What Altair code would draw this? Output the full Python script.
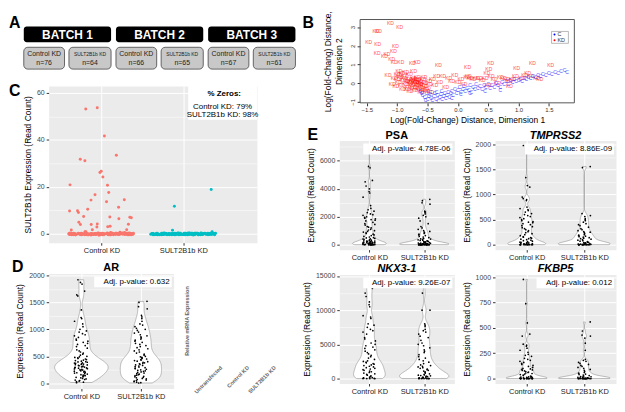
import altair as alt
import pandas as pd

FONT = "Liberation Sans"
GRP = ["Control KD", "SULT2B1b KD"]
LABEL_EXPR = f"['{GRP[0]}','{GRP[1]}'][datum.value-1]"
# deterministic pseudo-random jitter in [0,1) from the row number
FRAC = "((abs(sin(datum.rn * 12.9898 + datum.grp * 78.233)) * 43758.5453) % 1)"
FRAC2 = "((abs(sin(datum.rn * 39.3468 + datum.grp * 11.135)) * 24634.6345) % 1)"

# ---------------- Panel A ----------------
batches = ["BATCH 1", "BATCH 2", "BATCH 3"]
control_n = [76, 66, 67]
kd_n = [64, 65, 61]

# ---------------- Panel B (MDS) ----------------
kd_x = [-1.47, -1.35, -1.31, -1.32, -1.33, -1.21, -1.17, -1.11, -0.96, -1.03, -1.06, -1.09, -1.05, -0.94, -0.75, -0.67,
        -0.32, 0.16, 0.54, 0.97, 1.23, 1.53, 0.51, 0.48, 0.17, -1.15, -0.97, -0.86, -0.73, -1.0, -0.92, -0.80,
        -1.05, -1.00, -0.98, -0.95, -0.93, -0.90, -0.88, -0.86, -0.84, -0.82, -0.80, -0.78, -0.76, -0.75, -0.73, -0.72,
        -0.70, -0.69, -0.68, -0.66, -0.65, -0.64, -0.63, -0.62, -0.60, -0.59, -0.58, -0.57, -0.55, -0.54, -0.52, -0.50,
        -0.48, -0.47, -1.08, -1.02, -0.97, -0.91, -0.87, -0.83, -0.79, -0.71, -0.67, -0.61, -0.56, -0.53, -0.45, -0.74,
        -0.77, -0.81, -0.63, -0.69, -0.72, -0.66,
        -0.42, -0.35, -0.30, -0.25, -0.20, -0.15, -0.10, -0.05, 0.00, 0.05, 0.10, 0.15, 0.20, 0.25, 0.30, 0.35,
        0.40, 0.45, 0.55, 0.60, 0.65, 0.70, 0.75, 0.80, 0.85, 0.90, 0.95, 1.05, 1.10, 1.15, 1.20, 1.30, 1.35, 0.85, 0.50, -0.38]
kd_y = [2.21, 2.79, 2.79, 2.09, 1.60, 1.48, 1.55, 3.21, 3.00, 1.98, 1.71, 1.31, 1.15, 1.15, 1.07, 1.15,
        0.98, 0.85, 1.10, 0.82, 1.07, 0.98, 0.74, 0.52, 0.39, 0.44, 0.65, 0.60, 0.64, 0.50, 0.52, 0.48,
        0.30, 0.20, 0.05, 0.35, -0.10, 0.15, 0.28, -0.05, 0.10, -0.20, 0.22, 0.02, -0.12, 0.15, 0.30, -0.05,
        0.08, -0.25, 0.18, -0.10, 0.02, -0.30, 0.12, -0.18, 0.05, -0.08, -0.35, 0.25, -0.15, 0.00, -0.42, -0.25,
        0.10, -0.05, -0.02, -0.15, 0.42, -0.30, 0.40, -0.33, -0.40, -0.38, 0.35, -0.45, 0.32, -0.30, -0.48, -0.22,
        0.10, 0.05, -0.02, 0.05, 0.20, 0.25,
        0.20, 0.38, 0.05, 0.38, -0.20, 0.30, 0.12, 0.45, 0.05, 0.25, -0.05, 0.35, 0.30, 0.20, 0.28, 0.30,
        0.15, 0.30, 0.38, 0.20, 0.00, 0.35, 0.30, 0.22, 0.10, 0.25, 0.38, 0.30, 0.45, 0.55, 0.40, 0.30, 0.20, -0.15, -0.10, -0.10]
c_x = [-0.58, -0.55, -0.52, -0.50, -0.48, -0.46, -0.44, -0.42, -0.40, -0.38, -0.36, -0.34, -0.32, -0.30, -0.28, -0.26,
       -0.24, -0.22, -0.20, -0.18, -0.16, -0.14, -0.45, -0.35, -0.27, -0.60, -0.62, -0.53,
       -0.12, -0.10, -0.08, -0.05, -0.02, 0.00, 0.03, 0.05, 0.08, 0.10, 0.12, 0.15, 0.18, 0.20, 0.22, 0.25,
       0.28, 0.30, 0.33, 0.36, 0.40, 0.43, 0.46, 0.50, 0.53, 0.56, 0.60, 0.63, 0.66, 0.70, 0.73, 0.76,
       0.80, 0.83, 0.86, 0.90, 0.93, 0.96, 1.00, 1.03, 1.06, 1.10, 1.13, 1.16, 1.20, 1.24, 1.28, 1.32,
       1.36, 1.40, 1.45, 1.50, 1.55, 1.60, 1.65, 1.70, 1.76, 1.80, 0.20, 0.05, -0.10, 0.45, 0.70]
c_y = [-0.65, -0.75, -0.55, -0.85, -0.68, -0.60, -0.78, -0.92, -0.70, -0.55, -0.82, -0.65, -0.95, -0.75, -0.60, -0.85,
       -0.70, -0.50, -0.80, -0.62, -0.45, -0.72, -0.48, -0.45, -0.40, -0.50, -0.40, -0.92,
       -0.55, -0.40, -0.65, -0.30, -0.50, -0.35, -0.20, -0.45, -0.30, -0.15, -0.40, -0.25, -0.35, -0.10, -0.45, -0.20,
       -0.30, -0.05, -0.25, -0.15, -0.30, -0.10, -0.22, -0.05, -0.25, -0.12, -0.20, 0.00, -0.10, -0.18, 0.05, -0.05,
       0.10, -0.02, 0.15, 0.05, 0.20, 0.10, 0.18, 0.25, 0.12, 0.30, 0.22, 0.35, 0.28, 0.40, 0.32, 0.45,
       0.38, 0.50, 0.42, 0.55, 0.48, 0.60, 0.55, 0.65, 0.70, 0.62, -0.55, -0.60, -0.80, -0.40, -0.35]
mds_groups = ["C", "KD"]
mds_colors = ["#0000FF", "#FF0000"]

# ---------------- Panel C ----------------
c_control_nonzero = [53.2, 53.8, 41.6, 33.6, 31.8, 31.5, 26.8, 26.4, 24.0, 20.8, 20.7, 17.7, 16.5, 14.9, 14.1,
                     13.5, 11.1, 10.0, 10.2, 9.6, 9.0, 7.3, 7.0, 7.0, 7.7, 6.6, 4.7, 4.3, 3.8, 4.3, 3.9, 3.1,
                     2.7, 2.6, 1.9, 1.5, 1.4, 1.1, 1.0, 1.0, 1.0, 1.0]
c_control_zero_count = 167
c_kd_nonzero = [19.1, 11.8, 1.6, 1.1]
c_kd_zero_count = 186
zeros_title = "% Zeros:"
zeros_lines = ["Control KD: 79%", "SULT2B1b KD: 98%"]

# ---------------- Panel D qPCR (empty) ----------------
qpcr_conditions = ["Untransfected", "Control KD", "SULT2B1b KD"]
qpcr_ylabel = "Relative mRNA Expression"

# ---------------- Panels D / E (violins) ----------------
ar_ctrl = [1920, 1870, 1840, 1710, 1640, 1620, 1360, 1220, 1200, 1150, 1100, 1050, 1000, 970, 950, 920, 900, 880,
           850, 820, 800, 780, 760, 740, 720, 700, 680, 650, 620, 600, 580, 560, 540, 520, 500, 490, 480, 470,
           460, 450, 440, 430, 420, 410, 400, 395, 390, 380, 375, 370, 360, 355, 350, 345, 340, 330, 325, 320,
           310, 305, 300, 295, 290, 285, 280, 270, 265, 260, 250, 245, 240, 230, 225, 220, 210, 200, 195, 190,
           180, 170, 160, 150, 145, 140, 130, 120, 110, 100, 90, 80, 70, 60, 50, 40, 30, 20, 10]
ar_kd = [1520, 1500, 1420, 1380, 1260, 1230, 1200, 1150, 1100, 1080, 1050, 1020, 1000, 980, 950, 930, 900, 880,
         860, 840, 820, 800, 780, 760, 740, 720, 700, 680, 660, 640, 620, 600, 580, 560, 540, 520, 500, 490, 480,
         470, 460, 450, 440, 430, 420, 410, 400, 390, 380, 370, 360, 350, 340, 330, 320, 310, 300, 290, 280, 270,
         260, 250, 240, 230, 220, 210, 200, 190, 180, 170, 160, 150, 140, 130, 120, 110, 100, 90, 80, 70, 60, 50,
         40, 30, 20, 10, 5]
psa_ctrl = [7100, 5600, 5500, 4600, 4500, 4200, 4000, 3800, 3700, 3400, 2800, 2600, 2500, 2400, 2300, 2200, 2150,
            2100, 2000, 1950, 1900, 1850, 1800, 1750, 1700, 1600, 1500, 1450, 1400, 1300, 1250, 1200, 1100, 1050,
            1000, 950, 900, 850, 800, 750, 700, 650, 600, 550, 500, 480, 450, 420, 400, 380, 350, 320, 300, 280,
            260, 250, 230, 220, 200, 190, 180, 170, 160, 150, 140, 130, 120, 110, 100, 90, 80, 70, 60, 50, 40, 30,
            20, 15, 10, 5, 0, 0, 0, 0, 0, 0, 0, 0, 0, 0]
psa_kd = [3250, 3150, 3000, 2900, 2400, 2350, 2300, 2200, 2100, 2000, 1900, 1700, 1500, 1300, 1200, 1100, 1000, 950,
          900, 850, 800, 750, 700, 650, 600, 550, 500, 450, 420, 400, 380, 350, 320, 300, 280, 260, 240, 220, 200,
          180, 160, 150, 140, 130, 120, 110, 100, 90, 80, 70, 60, 50, 45, 40, 35, 30, 25, 20, 15, 10, 8, 5, 3, 2, 1,
          0, 0, 0, 0, 0, 0, 0, 0, 0, 0, 0, 0, 0, 0, 0]
tmp_ctrl = [1980, 1340, 1180, 1150, 950, 920, 900, 880, 750, 720, 700, 680, 650, 620, 600, 580, 560, 540, 520, 500,
            480, 460, 450, 440, 420, 400, 380, 360, 340, 320, 300, 280, 260, 240, 220, 200, 180, 160, 150, 140, 130,
            120, 110, 100, 90, 80, 70, 60, 50, 45, 40, 35, 30, 25, 20, 15, 10, 8, 5, 3, 0, 0, 0, 0, 0, 0, 0, 0, 0, 0]
tmp_kd = [1560, 1540, 620, 580, 560, 520, 500, 480, 450, 420, 400, 380, 350, 320, 300, 280, 260, 250, 240, 220, 200,
          190, 180, 170, 160, 150, 140, 130, 120, 110, 100, 90, 80, 70, 60, 50, 45, 40, 35, 30, 25, 20, 18, 15, 12,
          10, 8, 5, 3, 2, 0, 0, 0, 0, 0, 0, 0, 0, 0, 0, 0, 0]
nkx_ctrl = [14500, 14200, 13500, 13200, 12500, 12000, 11200, 10800, 10500, 9200, 9000, 8800, 8000, 7800, 7500, 7200,
            7000, 6800, 6500, 6000, 5800, 5500, 5200, 5000, 4800, 4600, 4400, 4200, 4000, 3800, 3600, 3400, 3200,
            3000, 2800, 2600, 2500, 2400, 2300, 2200, 2100, 2000, 1900, 1800, 1700, 1600, 1500, 1400, 1300, 1200,
            1100, 1000, 900, 800, 700, 600, 500, 400, 300, 200, 150, 100, 50, 20, 0, 0, 0, 0]
nkx_kd = [14300, 12500, 10000, 10000, 8000, 7800, 7600, 7200, 7000, 6800, 6500, 6200, 6000, 5600, 5200, 5000, 4800,
          4500, 4200, 4000, 3800, 3500, 3200, 3000, 2800, 2600, 2400, 2200, 2000, 1900, 1800, 1700, 1600, 1500,
          1400, 1300, 1200, 1100, 1000, 900, 800, 700, 600, 550, 500, 450, 400, 350, 300, 250, 200, 150, 120,
          100, 80, 60, 40, 20, 10, 0, 0, 0, 0, 0, 0]
fkbp_ctrl = [980, 740, 550, 440, 420, 340, 330, 320, 300, 280, 260, 240, 230, 220, 200, 190, 180, 170, 160, 150, 140,
             130, 120, 110, 100, 95, 90, 85, 80, 75, 70, 65, 60, 55, 50, 45, 40, 35, 30, 25, 20, 18, 15, 12, 10, 8,
             6, 5, 4, 3, 2, 1, 0, 0, 0, 0, 0, 0, 0, 0, 0, 0, 0, 0, 0, 0]
fkbp_kd = [560, 470, 430, 420, 400, 350, 280, 190, 180, 170, 160, 150, 140, 130, 120, 110, 100, 90, 80, 70, 60, 55,
           50, 45, 40, 35, 30, 25, 20, 18, 15, 12, 10, 8, 6, 5, 4, 3, 2, 1, 0, 0, 0, 0, 0, 0, 0, 0, 0, 0, 0, 0, 0,
           0, 0, 0]

GG_VIEW = alt.ViewBackground(fill="#EBEBEB", stroke="transparent")


def txt(t, x, y, **kw):
    opts = dict(font=FONT, color="black")
    opts.update(kw)
    return alt.Chart(pd.DataFrame({"t": [t]})).mark_text(**opts).encode(
        x=alt.value(x), y=alt.value(y), text="t:N")


def letter(ch, x, y):
    return txt(ch, x, y, fontSize=16, fontWeight="bold", align="left", baseline="top")


def gg_x_axis():
    return alt.Axis(values=[1, 2], labelExpr=LABEL_EXPR, title=None, grid=True, gridColor="white",
                    gridWidth=1, domain=False, tickColor="#333", tickSize=2.5, labelFontSize=7.5,
                    labelColor="#222", labelPadding=1.5)


def gg_y_axis(major_step, top, title):
    vals = [i * major_step / 2 for i in range(int(2 * top / major_step) + 1)]
    minor = f"datum.value % {major_step} !== 0"
    return alt.Axis(values=vals, labelExpr=f"datum.value % {major_step} === 0 ? datum.label : ''",
                    format="d", title=title, grid=True, gridColor="white",
                    gridWidth={"condition": {"test": minor, "value": 0.5}, "value": 1.0},
                    tickOpacity={"condition": {"test": minor, "value": 0}, "value": 1},
                    domain=False, tickColor="#333", tickSize=2.5, labelFontSize=7, labelColor="#444",
                    labelPadding=2, titleFontSize=8.5, titlePadding=4)


# ---------- Panel A (drawn left of its origin so that it lines up with panel C) ----------
dfA = pd.DataFrame({"idx": list(range(len(batches))), "batch": batches,
                    "cn": [f"n={v}" for v in control_n], "kn": [f"n={v}" for v in kd_n]})
sA = alt.Scale(domain=[0.27, 2.96], nice=False, zero=False)
baseA = alt.Chart(dfA).transform_calculate(
    x1="datum.idx + 0.947", xm="datum.idx + 0.4735", c1="datum.idx + 0.442", cm="datum.idx + 0.221",
    k0="datum.idx + 0.49", km="datum.idx + 0.7185")
hdr = baseA.mark_rect(color="black", cornerRadius=3).encode(
    x=alt.X("idx:Q", scale=sA, axis=None), x2="x1:Q", y=alt.value(7), y2=alt.value(23))
hdr_t = baseA.mark_text(color="white", fontWeight="bold", fontSize=12, font=FONT).encode(
    x=alt.X("xm:Q", scale=sA, axis=None), y=alt.value(15.5), text="batch:N")
boxc = baseA.mark_rect(fill="#C8C8C8", stroke="#444", strokeWidth=0.8, cornerRadius=4).encode(
    x=alt.X("idx:Q", scale=sA, axis=None), x2="c1:Q", y=alt.value(28), y2=alt.value(50))
boxk = baseA.mark_rect(fill="#C8C8C8", stroke="#444", strokeWidth=0.8, cornerRadius=4).encode(
    x=alt.X("k0:Q", scale=sA, axis=None), x2="x1:Q", y=alt.value(28), y2=alt.value(50))
tc1 = baseA.mark_text(fontSize=7, font=FONT, color="#222").encode(
    x=alt.X("cm:Q", scale=sA, axis=None), y=alt.value(35), text=alt.value(GRP[0]))
tc2 = baseA.mark_text(fontSize=7, font=FONT, color="#222").encode(
    x=alt.X("cm:Q", scale=sA, axis=None), y=alt.value(44), text="cn:N")
tk1 = baseA.mark_text(fontSize=5, font=FONT, color="#222").encode(
    x=alt.X("km:Q", scale=sA, axis=None), y=alt.value(35), text=alt.value("SULT2B1b KD"))
tk2 = baseA.mark_text(fontSize=7, font=FONT, color="#222").encode(
    x=alt.X("km:Q", scale=sA, axis=None), y=alt.value(44), text="kn:N")
panelA = alt.layer(hdr, hdr_t, boxc, boxk, tc1, tc2, tk1, tk2, letter("A", -40, -4)).properties(
    width=250, height=50, view=alt.ViewBackground(stroke="transparent"))

# ---------- Panel B ----------
BDX = 21      # plot box starts this far right of the column origin
BW = 216
BH = 84
dfB = pd.DataFrame({"x": kd_x + c_x, "y": kd_y + c_y, "g": ["KD"] * len(kd_x) + ["C"] * len(c_x)})
sBx = alt.Scale(domain=[-1.61, 1.92], nice=False, zero=False, range=[BDX, BDX + BW])
sBy = alt.Scale(domain=[-1.05, 3.41], nice=False, zero=False)
axBx = alt.Axis(values=[-1.5, -1.0, -0.5, 0.0, 0.5, 1.0, 1.5], format=".1f", grid=False,
                domain=False, tickColor="#333", tickSize=3, labelFontSize=6, labelColor="#333", labelPadding=1,
                title="Log(Fold-Change) Distance, Dimension 1", titleFontSize=8.5, titlePadding=3)
axBy = alt.Axis(values=[-1, 0, 1, 2, 3], format="d", grid=False, domain=False, tickColor="#333",
                tickSize=3, labelFontSize=6, labelColor="#333", labelAngle=-90,
                labelAlign="center", labelBaseline="bottom", offset=-BDX,
                title=["Log(Fold-Chang) Distance,", "Dimension 2"], titleFontSize=8.5, titlePadding=6)
layersB = []
for g, col in [("KD", mds_colors[1]), ("C", mds_colors[0])]:
    layersB.append(alt.Chart(dfB).transform_filter(f"datum.g == '{g}'").mark_text(
        fontSize=5, font=FONT, opacity=0.7, color=col).encode(
        x=alt.X("x:Q", scale=sBx, axis=axBx), y=alt.Y("y:Q", scale=sBy, axis=axBy), text="g:N"))
frameB = alt.Chart(pd.DataFrame({"t": [""]})).mark_rect(fillOpacity=0, stroke="#555", strokeWidth=1).encode(
    x=alt.value(BDX), x2=alt.value(BDX + BW), y=alt.value(0), y2=alt.value(BH))
leg_box = alt.Chart(pd.DataFrame({"t": [""]})).mark_rect(fill="white", stroke="#888", strokeWidth=0.6).encode(
    x=alt.value(BDX + 193), x2=alt.value(BDX + 210), y=alt.value(12), y2=alt.value(24))
leg_items = []
for i, (g, col) in enumerate(zip(mds_groups, mds_colors)):
    leg_items.append(alt.Chart(pd.DataFrame({"t": [g]})).mark_circle(size=4, color=col, opacity=1).encode(
        x=alt.value(BDX + 196), y=alt.value(15 + 6 * i)))
    leg_items.append(txt(g, BDX + 199, 15 + 6 * i, fontSize=5.5, align="left", baseline="middle", color="#333"))
panelB = alt.layer(*layersB, frameB, leg_box, *leg_items, letter("B", -37, -4)).properties(
    width=BDX + BW, height=BH, view=alt.ViewBackground(fill="white", stroke="transparent"))

# ---------- Panel C ----------
c_vals = c_control_nonzero + [0] * c_control_zero_count + c_kd_nonzero + [0] * c_kd_zero_count
c_grp = [1] * (len(c_control_nonzero) + c_control_zero_count) + [2] * (len(c_kd_nonzero) + c_kd_zero_count)
dfC = pd.DataFrame({"grp": c_grp, "val": c_vals})
sCx = alt.Scale(domain=[0.355, 2.9], nice=False, zero=False)
sCy = alt.Scale(domain=[-3.7, 62.9], nice=False, zero=False)
yaxC = gg_y_axis(20, 60, "SULT2B1b Expression (Read Count)")
baseC = alt.Chart(dfC).transform_window(rn="row_number()", groupby=["grp"]).transform_calculate(
    xj=f"datum.grp + ({FRAC} - 0.5) * 0.8", yj=f"datum.val + ({FRAC2} - 0.5) * 0.8")
ptsC = [baseC.transform_filter(f"datum.grp == {g}").mark_circle(size=9, opacity=1, color=col).encode(
    x=alt.X("xj:Q", scale=sCx, axis=gg_x_axis()), y=alt.Y("yj:Q", scale=sCy, axis=yaxC))
    for g, col in [(1, "#F8766D"), (2, "#00BFC4")]]
annC = pd.DataFrame({"x0": [2.06], "x1": [2.9], "y0": [48.5], "y1": [62.9]})
boxC = alt.Chart(annC).mark_rect(color="white").encode(
    x=alt.X("x0:Q", scale=sCx, axis=gg_x_axis()), x2="x1:Q",
    y=alt.Y("y0:Q", scale=sCy, axis=yaxC), y2="y1:Q")
ttlC = alt.Chart(pd.DataFrame({"t": [zeros_title], "x": [2.5], "y": [59.3]})).mark_text(
    fontSize=8, font=FONT, color="black", fontWeight="bold").encode(
    x=alt.X("x:Q", scale=sCx, axis=gg_x_axis()), y=alt.Y("y:Q", scale=sCy, axis=yaxC), text="t:N")
txtC = alt.Chart(pd.DataFrame({"t": zeros_lines, "x": [2.48, 2.48], "y": [53.8, 50.6]})).mark_text(
    fontSize=8, font=FONT, color="black").encode(
    x=alt.X("x:Q", scale=sCx, axis=gg_x_axis()), y=alt.Y("y:Q", scale=sCy, axis=yaxC), text="t:N")
panelC = alt.layer(boxC, *ptsC, ttlC, txtC, letter("C", -40, -3)).properties(width=210, height=158, view=GG_VIEW)


# ---------- Violins ----------
def violin(ctrl, kd, ydom, step, top, bw, title, italic, pval, w, h, extra=()):
    df = pd.DataFrame({"grp": [1] * len(ctrl) + [2] * len(kd), "val": ctrl + kd})
    xs = alt.Scale(domain=[0.45, 2.55], nice=False, zero=False)
    ys = alt.Scale(domain=ydom, nice=False, zero=False)
    xa = gg_x_axis()
    ya = gg_y_axis(step, top, "Expression (Read Count)")
    area = alt.Chart(df).transform_joinaggregate(
        gmax="max(val)", gmin="min(val)", groupby=["grp"]).transform_density(
        "val", groupby=["grp", "gmax", "gmin"], bandwidth=bw, steps=400, as_=["v", "d"]).transform_filter(
        "datum.v <= datum.gmax && datum.v >= datum.gmin").transform_joinaggregate(
        dmax="max(d)").transform_calculate(
        left="datum.grp - 0.45 * datum.d / datum.dmax", right="datum.grp + 0.45 * datum.d / datum.dmax"
    ).mark_area(orient="horizontal", fill="white", stroke="#8C8C8C", strokeWidth=0.6).encode(
        y=alt.Y("v:Q", scale=ys, axis=ya), x=alt.X("left:Q", scale=xs, axis=xa), x2="right:Q",
        detail="grp:N")
    pts = alt.Chart(df).transform_window(rn="row_number()", groupby=["grp"]).transform_calculate(
        xj=f"datum.grp + ({FRAC} - 0.5) * 0.24").mark_circle(
        size=3, color="black", opacity=1).encode(
        x=alt.X("xj:Q", scale=xs, axis=xa), y=alt.Y("val:Q", scale=ys, axis=ya))
    label = f"Adj. p-value: {pval}"
    bwid = len(label) * 3.9 + 4
    pbox = alt.Chart(pd.DataFrame({"t": [label]})).mark_rect(color="white").encode(
        x=alt.value(w - 2 - bwid), x2=alt.value(w - 2), y=alt.value(3), y2=alt.value(14))
    ptxt = txt(label, w - 4, 8.8, fontSize=8, align="right", baseline="middle")
    ttl = txt(title, w / 2, -2, fontSize=11, fontWeight="bold", fontStyle="italic" if italic else "normal",
              align="center", baseline="alphabetic")
    return alt.layer(area, pts, pbox, ptxt, ttl, *extra).properties(width=w, height=h, view=GG_VIEW)


# empty qPCR panel next to AR (text only)
qpcr_marks = [txt(qpcr_ylabel, 139, 48, fontSize=5.5, fontWeight="bold", color="#666", angle=270,
                  align="center", baseline="middle")]
for i, cond in enumerate(qpcr_conditions):
    qpcr_marks.append(txt(cond, 174 + 27 * i, 94, fontSize=5.5, fontWeight="bold", color="#666", angle=315,
                          align="right", baseline="middle"))

panelD = violin(ar_ctrl, ar_kd, [-97, 2037], 500, 2000, 90, "AR", False, "0.632", 126, 116,
                extra=[letter("D", -37, -14)] + qpcr_marks)

psa = violin(psa_ctrl, psa_kd, [-355, 7455], 2000, 7000, 130, "PSA", False, "4.78E-06", 116, 110,
             extra=[letter("E", -32, -14)])
tmp = violin(tmp_ctrl, tmp_kd, [-99, 2079], 500, 2000, 45, "TMPRSS2", True, "8.86E-09", 122, 110)
nkx = violin(nkx_ctrl, nkx_kd, [-725, 15225], 5000, 15000, 650, "NKX3-1", True, "9.26E-07", 116, 110)
fkbp = violin(fkbp_ctrl, fkbp_kd, [-49, 1029], 250, 1000, 18, "FKBP5", True, "0.012", 122, 110)

left = alt.vconcat(alt.vconcat(panelA, panelC, spacing=12), panelD, spacing=4)
right = alt.vconcat(panelB, alt.hconcat(psa, tmp, spacing=6), alt.hconcat(nkx, fkbp, spacing=6), spacing=1)

chart = alt.hconcat(left, right, spacing=4).properties(padding=0, background="white").configure(
    font=FONT).configure_axis(labelFont=FONT, titleFont=FONT, titleFontWeight="normal",
                              titleColor="black")

chart.save("out.html", embed_options={"renderer": "svg", "actions": False})
